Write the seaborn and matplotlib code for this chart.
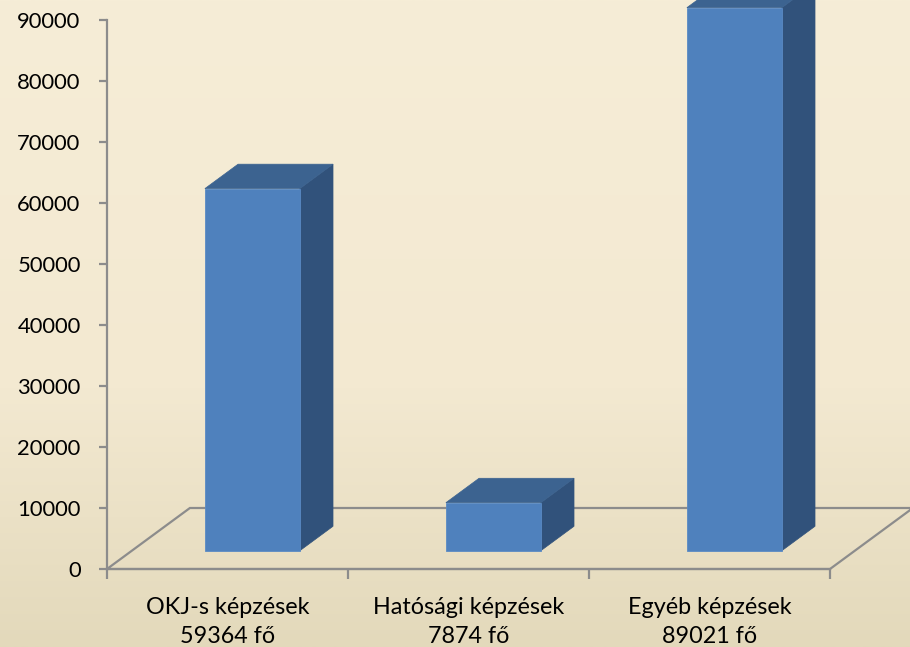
import numpy as np
import pandas as pd
import matplotlib
matplotlib.use("Agg")
import matplotlib.pyplot as plt
from matplotlib.colors import LinearSegmentedColormap
from matplotlib.patches import Polygon
import seaborn as sns

# Data
categories = ["OKJ-s képzések", "Hatósági képzések", "Egyéb képzések"]
people = [59364, 7874, 89021]
tick_labels = [f"{c}\n{v} fő" for c, v in zip(categories, people)]
yticks = list(range(0, 90001, 10000))

df = pd.DataFrame({"kategoria": tick_labels, "fo": people})

sns.set_style("white")
plt.rcParams["font.family"] = ["Lato", "DejaVu Sans"]

fig = plt.figure(figsize=(9.1, 6.47), dpi=100)

# background gradient
bg = fig.add_axes([0, 0, 1, 1], zorder=-10)
cmap = LinearSegmentedColormap.from_list(
    "bg", [(0, "#f6edd7"), (0.6, "#f3e9d1"), (1, "#e3d9bb")])
bg.imshow(np.linspace(0, 1, 256).reshape(-1, 1), aspect="auto", cmap=cmap,
          extent=[0, 1, 0, 1])
bg.axis("off")

ax = fig.add_axes([107 / 910, 78 / 647, 723 / 910, 549 / 647])
ax.patch.set_alpha(0)

# 3D look parameters (floor depth in data units)
depth_x, depth_y = 0.344, 10000
front_frac, bar_frac = 0.3, 0.4
bar_w = 0.394

front_c, side_c, top_c = "#4f81bd", "#31527b", "#3c6390"
grid_c = "#8c8c8c"

sns.barplot(data=df, x="kategoria", y="fo", color=front_c, width=bar_w,
            saturation=1, ax=ax, zorder=3, edgecolor="#5a8ac4", linewidth=0.6)

ax.set_xlim(-0.5, 2.5)
ax.set_ylim(0, 90000)

fx, fy = front_frac * depth_x, front_frac * depth_y
bx, by = bar_frac * depth_x, bar_frac * depth_y

# floor
floor = [(-0.5, 0), (2.5, 0), (2.5 + depth_x, depth_y), (-0.5 + depth_x, depth_y)]
ax.add_patch(Polygon(floor, closed=True, fill=False, edgecolor=grid_c,
                     lw=1.6, clip_on=False, zorder=1))

for p in ax.patches[:len(people)]:
    x0, h, w = p.get_x(), p.get_height(), p.get_width()
    p.set_x(x0 + fx)
    p.set_y(fy)
    x0, y0 = x0 + fx, fy
    x1, y1 = x0 + w, y0 + h
    side = [(x1, y0), (x1 + bx, y0 + by), (x1 + bx, y1 + by), (x1, y1)]
    top = [(x0, y1), (x1, y1), (x1 + bx, y1 + by), (x0 + bx, y1 + by)]
    ax.add_patch(Polygon(side, closed=True, facecolor=side_c, edgecolor=side_c,
                         lw=0.5, clip_on=False, zorder=2))
    ax.add_patch(Polygon(top, closed=True, facecolor=top_c, edgecolor=top_c,
                         lw=0.5, clip_on=False, zorder=2))
    p.set_clip_on(False)

# axes styling
for s in ["top", "right"]:
    ax.spines[s].set_visible(False)
ax.spines["left"].set_color(grid_c)
ax.spines["bottom"].set_color(grid_c)
ax.spines["left"].set_linewidth(1.6)
ax.spines["bottom"].set_linewidth(1.6)

ax.set_yticks(yticks)
ax.set_yticklabels([str(v) for v in yticks])
ax.tick_params(axis="y", direction="out", length=6, width=1.6, color=grid_c,
               pad=13, labelsize=15.8, labelcolor="black", left=True)

ax.set_xticks([0, 1, 2])
ax.set_xticklabels(tick_labels)
ax.tick_params(axis="x", length=0, pad=20, labelsize=16.8, labelcolor="black")
ax.set_xticks([-0.5, 0.5, 1.5, 2.5], minor=True)
ax.tick_params(axis="x", which="minor", direction="out", length=7, width=1.6,
               color=grid_c, bottom=True)
for t in ax.get_xticklabels():
    t.set_linespacing(1.5)

ax.set_xlabel("")
ax.set_ylabel("")

fig.savefig("out.png", dpi=100)
